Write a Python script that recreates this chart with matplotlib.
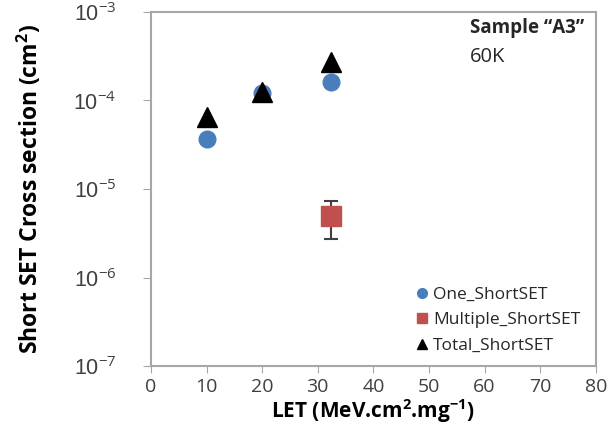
import numpy as np
import matplotlib.pyplot as plt
from matplotlib.lines import Line2D

# data
let_one = [10, 20, 32.4]
one_sset = [3.7e-5, 1.2e-4, 1.6e-4]
let_mult = [32.4]
mult_sset = [5.0e-6]
mult_err_lo = [2.3e-6]
mult_err_hi = [2.3e-6]
let_tot = [10, 20, 32.4]
tot_sset = [6.5e-5, 1.25e-4, 2.7e-4]

x_ticks = [0, 10, 20, 30, 40, 50, 60, 70, 80]
y_ticks = [1e-7, 1e-6, 1e-5, 1e-4, 1e-3]
y_labels = ["10$^{-7}$", "10$^{-6}$", "10$^{-5}$", "10$^{-4}$", "10$^{-3}$"]

plt.rcParams['font.family'] = ['Open Sans', 'DejaVu Sans']
plt.rcParams['mathtext.fontset'] = 'custom'
plt.rcParams['mathtext.rm'] = 'Open Sans'
plt.rcParams['mathtext.bf'] = 'Open Sans:bold'
grey = '#a6a6a6'
blue = '#4a7ebb'
red = '#c0504d'

fig = plt.figure(figsize=(6.11, 4.38), dpi=100)
ax = fig.add_axes([0.247, 0.164, 0.728, 0.809])

ax.plot(let_one, one_sset, ls='none', marker='o', ms=12, color=blue, zorder=3)
ax.errorbar(let_mult, mult_sset, yerr=[mult_err_lo, mult_err_hi], ls='none',
            ecolor='#404040', elinewidth=1.5, capsize=5, capthick=1.5, zorder=2)
ax.plot(let_mult, mult_sset, ls='none', marker='s', ms=15, color=red, zorder=3)
ax.plot(let_tot, tot_sset, ls='none', marker='^', ms=14, color='black', zorder=4)

ax.set_yscale('log')
ax.set_ylim(1e-7, 1e-3)
ax.set_xlim(0, 80)
ax.set_xticks(x_ticks)
ax.set_yticks(y_ticks)
ax.set_yticklabels(y_labels, family='Liberation Sans')
ax.yaxis.set_minor_locator(plt.NullLocator())
ax.tick_params(axis='x', labelsize=14, length=5, color=grey, labelcolor='#404040')
ax.tick_params(axis='y', labelsize=15.5, length=6, pad=19, color=grey,
               labelcolor='#404040')
for s in ax.spines.values():
    s.set_color(grey)
    s.set_linewidth(1.5)

ax.set_xlabel('LET (MeV.cm$^{\\mathbf{2}}$.mg$^{\\mathbf{-1}}$)', fontsize=15,
              fontweight='bold', labelpad=1)
ax.set_ylabel('Short SET Cross section (cm$^{\\mathbf{2}}$)', fontsize=16.5,
              fontweight='bold', labelpad=21)

ax.text(0.717, 0.94, 'Sample “A3”', transform=ax.transAxes, fontsize=13.5,
        fontweight='bold', color='#262626')
ax.text(0.717, 0.859, '60K', transform=ax.transAxes, fontsize=14.5,
        color='#262626')

handles = [
    Line2D([], [], ls='none', marker='o', ms=7, color=blue),
    Line2D([], [], ls='none', marker='s', ms=7, color=red),
    Line2D([], [], ls='none', marker='^', ms=7, color='black'),
]
names = ['One_ShortSET', 'Multiple_ShortSET', 'Total_ShortSET']
leg = ax.legend(handles, names, loc='lower right', frameon=False, fontsize=12.5,
                handletextpad=0.3, handlelength=0.6,
                labelspacing=0.55, bbox_to_anchor=(1.0, -0.01))
for t in leg.get_texts():
    t.set_color('#262626')

fig.savefig('out.png', dpi=100)
